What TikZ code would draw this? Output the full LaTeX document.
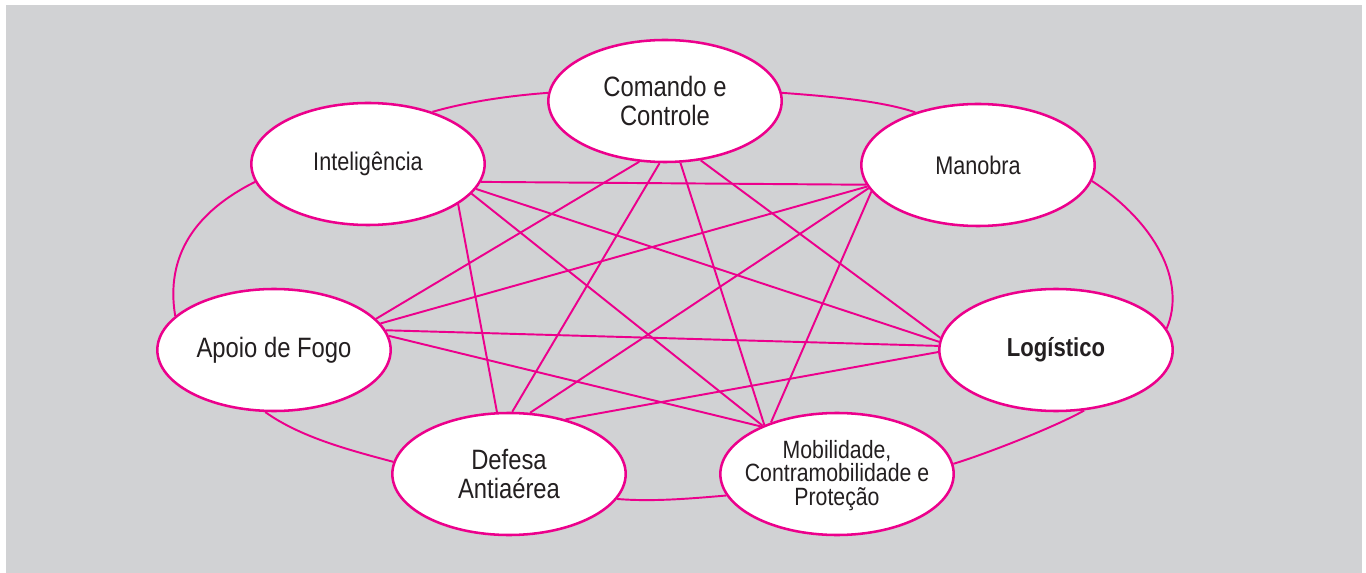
\documentclass[tikz,border=0pt]{standalone}
\usepackage{fontspec}
\setmainfont[FakeStretch=0.85]{Liberation Sans}
\usetikzlibrary{shapes.geometric}
\definecolor{bggray}{HTML}{D1D2D4}
\definecolor{mag}{HTML}{EC008C}
\definecolor{txt}{HTML}{231F20}
\begin{document}
\begin{tikzpicture}[x=0.75pt,y=-0.75pt,
  bubble/.style={ellipse,draw=mag,line width=1.9pt,fill=white,minimum width=175pt,minimum height=91.5pt,inner sep=0pt},
  lbl/.style={text=txt,align=center,inner sep=0pt},
  big/.style={font=\fontsize{21}{21.75}\selectfont},
  mid/.style={font=\fontsize{19.1}{20}\selectfont},
  small/.style={font=\fontsize{18.75}{17.6}\selectfont},
  link/.style={draw=mag,line width=1.45pt}]
\useasboundingbox (0,0) rectangle (1366,573);
\fill[bggray] (6,5) rectangle (1362,573);

\node[bubble] (cc) at (665,101) {};
\node[bubble] (in) at (368,164) {};
\node[bubble] (ma) at (978,165) {};
\node[bubble] (ap) at (274,350) {};
\node[bubble] (lo) at (1056,350) {};
\node[bubble] (de) at (509,474) {};
\node[bubble] (mo) at (837,474) {};

\node[lbl,big] (cct) at (cc.center) {Comando e\\Controle};
\node[lbl,mid] (int) at (in.center) {Inteligência};
\node[lbl,mid] (mat) at (ma.center) {Manobra};
\node[lbl,big] (apt) at (ap.center) {Apoio de Fogo};
\node[lbl,font=\fontsize{19.5}{20}\selectfont\bfseries] (lot) at (lo.center) {Logístico};
\node[lbl,big] (det) at (de.center) {Defesa\\Antiaérea};
\node[lbl,small] (mot) at ([yshift=-1pt]mo.center) {Mobilidade,\\Contramobilidade e\\Proteção};

% chords
\draw[link] (in.-9.6) -- (ma.-170.9);
\draw[link] (in.-13.5) -- (lo.176);
\draw[link] (in.-16.9) -- (mo.147.6);
\draw[link] (in.-24.5) -- (de.101);
\draw[link] (cc.-113.5) -- (ap.17.3);
\draw[link] (cc.-95.4) -- (de.87);
\draw[link] (cc.-76.6) -- (mo.146.5);
\draw[link] (cc.-59.5) -- (lo.174);
\draw[link] (ma.-169.7) -- (ap.14.8);
\draw[link] (ma.-168.5) -- (de.71.8);
\draw[link] (ma.-166.7) -- (mo.142.7);
\draw[link] (ap.10.7) -- (lo.178.5);
\draw[link] (ap.7.5) -- (mo.148.9);
\draw[link] (de.44.5) -- (lo.181.5);

% ring
\draw[link] (in.39.2) .. controls +(35,-10) and +(-40,3) .. (cc.176);
\draw[link] (cc.4.4) .. controls +(40,3) and +(-35,-12) .. (ma.140.7);
\draw[link] (ma.-8) .. controls +(63,41) and +(20,-47) .. (lo.11.9);
\draw[link] (lo.-65.3) .. controls +(-30,17) and +(30,-9) .. (mo.5.4);
\draw[link] (mo.191.9) .. controls +(-35,3) and +(35,3) .. (de.-13);
\draw[link] (de.174.6) .. controls +(-45,-12) and +(35,25) .. (ap.-98);
\draw[link] (ap.161.6) .. controls +(-10,-60) and +(-60,30) .. (in.189);
\end{tikzpicture}
\end{document}
